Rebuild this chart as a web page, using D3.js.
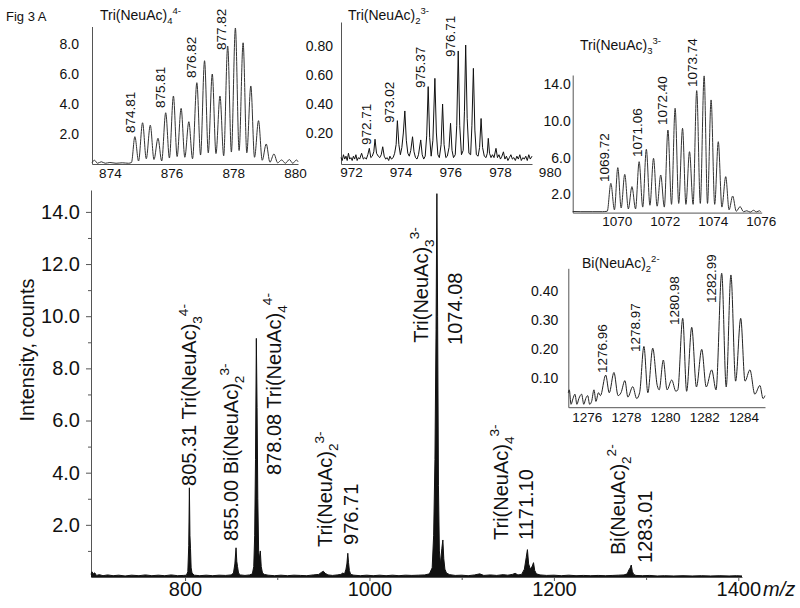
<!DOCTYPE html>
<html><head><meta charset="utf-8">
<script src="https://cdn.jsdelivr.net/npm/d3@7"></script>
<style>
body{margin:0;background:#fff}
text{font-family:"Liberation Sans",Arial,Helvetica,sans-serif;fill:#111}
</style>
</head><body><svg id="c" width="800" height="608"></svg>
<script>
// ---------------- DATA ----------------
const mainXTicks = [800, 1000, 1200, 1400];
const mainXMinor = [900, 1100, 1300];
const mainYTicks = [2, 4, 6, 8, 10, 12, 14];
const mainYMinor = [1, 3, 5, 7, 9, 11, 13];

const mainSpectrum = [
[698,0.1],[699,0.2],[700.5,0.12],[702,0.16],[704,0.06],[707,0.09],[711,0.05],[716,0.08],[722,0.05],[728,0.07],[735,0.04],[742,0.07],[750,0.05],[757,0.08],[764,0.05],[771,0.07],[778,0.05],[785,0.08],[792,0.05],[798,0.06],[801.5,0.07],
[803,0.2],[804,1.2],[804.7,3.42],[805.3,1.6],[805.9,1.1],[806.6,0.35],[807.6,0.15],[810,0.07],[816,0.05],[823,0.07],[830,0.05],[837,0.07],[844,0.06],[850,0.08],
[852.5,0.15],[854,0.5],[855.3,1.12],[856.1,0.6],[856.9,0.4],[858,0.15],[860,0.08],[865,0.06],[870,0.08],
[873,0.12],[874.5,0.4],[875.5,1.6],[876.4,4.5],[877.3,9.15],[878.1,6.5],[878.9,3.0],[879.8,1.0],[880.6,0.7],[881.6,1.0],[882.6,0.4],[884,0.15],[886,0.1],
[890,0.07],[897,0.05],[904,0.07],[911,0.05],[918,0.07],[925,0.06],[932,0.05],[939,0.08],[945,0.1],[948,0.18],[950,0.22],[952,0.14],[955,0.08],[960,0.06],[965,0.08],[969,0.1],[971,0.15],[973,0.12],
[974.5,0.3],[975.5,0.5],[976.5,0.91],[977.3,0.55],[978.2,0.25],[979.6,0.1],[983,0.07],[990,0.05],[997,0.07],[1004,0.05],[1011,0.07],[1018,0.05],[1025,0.07],[1032,0.05],[1039,0.07],[1046,0.06],[1053,0.07],[1060,0.08],
[1065,0.12],[1068,0.35],[1069.6,1.6],[1071,4.5],[1072.2,9.5],[1073.1,14.7],[1073.9,10],[1074.8,3.5],[1075.8,1.0],[1077,0.5],[1078.5,1.1],[1079.6,1.42],[1080.6,0.7],[1081.8,0.3],[1083.5,0.15],[1087,0.09],
[1093,0.06],[1100,0.07],[1107,0.05],[1114,0.08],[1119.6,0.12],[1124,0.06],[1131,0.08],[1138,0.06],[1145,0.09],[1150,0.07],[1155,0.1],[1158,0.14],[1161,0.08],[1165,0.1],
[1168,0.3],[1170,0.75],[1171.3,1.05],[1172.6,0.5],[1174.5,0.3],[1176.6,0.42],[1177.9,0.55],[1179.2,0.25],[1181,0.12],[1185,0.08],
[1192,0.06],[1200,0.07],[1208,0.05],[1216,0.07],[1224,0.05],[1232,0.06],[1240,0.05],[1248,0.06],[1256,0.05],[1264,0.06],[1270,0.07],[1276,0.08],
[1279.5,0.12],[1281.5,0.28],[1282.8,0.35],[1283.9,0.46],[1285,0.22],[1286.5,0.1],[1289,0.06],[1296,0.05],[1304,0.06],[1312,0.04],[1320,0.05],[1330,0.04],[1340,0.05],[1350,0.04],[1360,0.05],[1370,0.04],[1380,0.05],[1390,0.04],[1398,0.05],[1404,0.04]
];

const mainLabels = [
 {text:"805.31 Tri(NeuAc)_{3}^{4-}", at:804.3, base:3.49},
 {text:"855.00 Bi(NeuAc)_{2}^{3-}", at:849.4, base:1.38},
 {text:"878.08 Tri(NeuAc)_{4}^{4-}", at:896.0, base:3.91},
 {text:"Tri(NeuAc)_{2}^{3-}", at:951.9, base:1.15},
 {text:"976.71", at:979.6, base:1.23},
 {text:"Tri(NeuAc)_{3}^{3-}", at:1055.5, base:8.98},
 {text:"1074.08", at:1092.9, base:8.9},
 {text:"Tri(NeuAc)_{4}^{3-}", at:1142.3, base:1.42},
 {text:"1171.10", at:1169.4, base:1.42},
 {text:"Bi(NeuAc)_{2}^{2-}", at:1269.2, base:0.84},
 {text:"1283.01", at:1298.5, base:0.54}
];

// Inset 1: Tri(NeuAc)4 4-
const inset1Title = "Tri(NeuAc)_{4}^{4-}";
const inset1XTicks = [874, 876, 878, 880];
const inset1YTicks = [2, 4, 6, 8];
const inset1Spectrum = [
[873.42,0.1],[873.5,0.25],[873.6,0.05],[873.72,0.15],[873.85,0.05],[874.0,0.1],[874.2,0.05],[874.4,0.08],[874.6,0.05],[874.7,0.1],
[874.81,1.83],[874.93,0.2],[875.06,2.76],[875.18,0.35],[875.31,2.6],[875.43,0.3],[875.56,1.72],[875.68,0.2],
[875.81,3.43],[875.93,0.4],[876.06,4.55],[876.18,0.5],[876.31,3.72],[876.43,0.45],[876.56,2.83],[876.68,0.35],
[876.82,5.44],[876.94,0.6],[877.07,6.91],[877.19,0.75],[877.32,6.02],[877.44,0.7],[877.57,4.55],[877.69,0.55],
[877.82,7.89],[877.94,0.8],[878.07,9.1],[878.19,0.9],[878.32,8.11],[878.44,0.75],[878.57,5.22],[878.69,0.45],
[878.82,2.9],[878.94,0.25],[879.07,1.34],[879.19,0.12],[879.32,0.67],[879.44,0.08],[879.57,0.27],[879.69,0.05],[879.82,0.3],[879.93,0.05],[880.05,0.27],[880.1,0.15]
];
const inset1Labels = [
 {text:"874.81", at:874.65, base:2.07},
 {text:"875.81", at:875.65, base:3.75},
 {text:"876.82", at:876.63, base:5.75},
 {text:"877.82", at:877.6, base:7.63}
];

// Inset 2: Tri(NeuAc)2 3-
const inset2Title = "Tri(NeuAc)_{2}^{3-}";
const inset2XTicks = [972, 974, 976, 978, 980];
const inset2YTicks = [0.2, 0.4, 0.6, 0.8];
const inset2Spectrum = [
[971.60,0.03],[971.65,0.01],[971.70,0.05],[971.75,0.02],[971.80,0.04],[971.85,0.01],[971.90,0.06],[971.95,0.02],[972.00,0.03],[972.05,0.01],[972.10,0.04],[972.15,0.02],[972.20,0.05],[972.25,0.01],[972.30,0.03],[972.35,0.02],[972.43,0.06],[972.50,0.02],[972.56,0.03],[972.62,0.02],[972.68,0.05],
[972.74,0.094],[972.80,0.03],[972.86,0.04],[972.92,0.07],[972.97,0.157],[973.03,0.06],[973.10,0.04],[973.16,0.03],[973.22,0.05],[973.28,0.105],[973.34,0.04],[973.40,0.02],[973.46,0.03],[973.52,0.01],[973.57,0.04],[973.63,0.02],[973.70,0.03],[973.76,0.06],[973.82,0.12],
[973.87,0.285],[973.93,0.12],[973.99,0.05],[974.05,0.10],[974.11,0.20],[974.17,0.352],[974.23,0.15],[974.29,0.06],[974.35,0.04],[974.41,0.08],[974.48,0.174],[974.54,0.07],[974.60,0.03],[974.66,0.02],[974.72,0.05],[974.81,0.152],[974.87,0.05],[974.93,0.02],[974.99,0.04],[975.05,0.18],
[975.11,0.52],[975.17,0.17],[975.23,0.04],[975.30,0.15],[975.38,0.577],[975.44,0.20],[975.50,0.05],[975.56,0.03],[975.63,0.12],[975.69,0.40],[975.75,0.12],[975.82,0.03],[975.88,0.04],[975.95,0.10],[976.01,0.267],[976.07,0.08],[976.13,0.03],[976.20,0.05],[976.26,0.25],
[976.32,0.766],[976.38,0.25],[976.45,0.05],[976.52,0.08],[976.57,0.35],[976.62,0.807],[976.68,0.30],[976.75,0.06],[976.82,0.05],[976.87,0.25],[976.93,0.646],[976.99,0.22],[977.05,0.05],[977.12,0.04],[977.18,0.10],[977.24,0.30],[977.30,0.10],[977.37,0.04],[977.44,0.03],[977.49,0.06],
[977.53,0.163],[977.58,0.06],[977.64,0.03],[977.70,0.05],[977.76,0.03],[977.84,0.094],[977.90,0.03],[977.96,0.05],[978.02,0.02],[978.08,0.04],[978.14,0.07],[978.20,0.02],[978.26,0.04],[978.32,0.01],[978.38,0.03],[978.44,0.05],[978.50,0.02],[978.56,0.03],[978.62,0.01],[978.68,0.04],
[978.74,0.02],[978.80,0.05],[978.86,0.01],[978.92,0.03],[978.98,0.02],[979.04,0.04],[979.10,0.01],[979.16,0.05],[979.22,0.02],[979.29,0.04]
];
const inset2Labels = [
 {text:"972.71", at:972.6, base:0.117},
 {text:"973.02", at:973.53, base:0.269},
 {text:"975.37", at:974.78, base:0.51},
 {text:"976.71", at:975.99, base:0.724}
];

// Inset 3: Tri(NeuAc)3 3-
const inset3Title = "Tri(NeuAc)_{3}^{3-}";
const inset3XTicks = [1070, 1072, 1074, 1076];
const inset3YTicks = [2, 6, 10, 14];
const inset3Spectrum = [
[1068.16,0.12],[1068.5,0.1],[1069.0,0.1],[1069.4,0.1],[1069.6,0.15],
[1069.75,3.19],[1069.9,0.3],[1070.04,4.9],[1070.18,0.5],[1070.33,4.17],[1070.48,0.4],[1070.63,2.83],[1070.78,0.4],
[1070.93,5.55],[1071.08,0.6],[1071.23,6.9],[1071.38,0.8],[1071.53,5.92],[1071.68,0.7],[1071.83,4.1],[1071.98,0.6],
[1072.13,9.0],[1072.28,0.9],[1072.43,11.37],[1072.58,1.0],[1072.74,9.19],[1072.88,0.9],[1073.03,6.64],[1073.18,0.9],
[1073.33,13.3],[1073.48,1.0],[1073.64,14.9],[1073.78,1.0],[1073.93,12.28],[1074.08,0.9],[1074.23,7.73],[1074.38,0.6],
[1074.54,3.92],[1074.68,0.3],[1074.83,1.81],[1074.98,0.15],[1075.14,0.65],[1075.28,0.1],[1075.42,0.2],[1075.56,0.05],[1075.7,0.25],[1075.82,0.08],[1075.95,0.2],[1076.0,0.1]
];
const inset3Labels = [
 {text:"1069.72", at:1069.47, base:3.34},
 {text:"1071.06", at:1070.85, base:6.06},
 {text:"1072.40", at:1071.89, base:9.55},
 {text:"1073.74", at:1073.14, base:13.7}
];

// Inset 4: Bi(NeuAc)2 2-
const inset4Title = "Bi(NeuAc)_{2}^{2-}";
const inset4XTicks = [1276, 1278, 1280, 1282, 1284];
const inset4YTicks = [0.1, 0.2, 0.3, 0.4];
const inset4Spectrum = [
[1275.06,0.05],[1275.11,0.06],[1275.2,0.01],[1275.3,0.03],[1275.4,0.045],[1275.5,0.01],[1275.6,0.03],[1275.74,0.045],[1275.85,0.01],[1275.95,0.03],[1276.05,0.04],[1276.15,0.01],[1276.25,0.02],[1276.37,0.06],[1276.47,0.02],[1276.6,0.05],[1276.7,0.04],
[1276.97,0.111],[1277.15,0.05],[1277.39,0.12],[1277.6,0.04],[1277.75,0.05],[1277.95,0.092],[1278.1,0.035],[1278.35,0.071],[1278.55,0.03],[1278.7,0.05],
[1278.92,0.21],[1279.12,0.05],[1279.37,0.204],[1279.6,0.075],[1279.7,0.06],[1279.91,0.163],[1280.1,0.06],[1280.34,0.094],[1280.55,0.055],[1280.65,0.06],
[1280.9,0.307],[1281.1,0.055],[1281.36,0.276],[1281.6,0.07],[1281.87,0.2],[1282.1,0.07],[1282.38,0.129],[1282.6,0.06],
[1282.89,0.463],[1283.12,0.07],[1283.36,0.457],[1283.6,0.09],[1283.86,0.307],[1284.08,0.09],[1284.33,0.129],[1284.58,0.045],[1284.84,0.075],[1285.0,0.03],[1285.1,0.04]
];
const inset4Labels = [
 {text:"1276.96", at:1276.78, base:0.118},
 {text:"1278.97", at:1278.46, base:0.191},
 {text:"1280.98", at:1280.45, base:0.284},
 {text:"1282.99", at:1282.34, base:0.36}
];

// ---------------- DRAWING ----------------
const svg = d3.select("#c");
svg.append("rect").attr("width",800).attr("height",608).attr("fill","#fff");

function rich(t, str, size){
  const parts = str.split(/(_\{[^}]*\}|\^\{[^}]*\})/).filter(s => s.length);
  let cur = 0;
  parts.forEach(p => {
    let target = 0, fs = size, txt = p;
    if (p[0] === "_") { target = 0.3*size; fs = 0.68*size; txt = p.slice(2,-1); }
    else if (p[0] === "^") { target = -0.42*size; fs = 0.68*size; txt = p.slice(2,-1); }
    t.append("tspan").attr("dy", (target-cur).toFixed(2)).attr("font-size", fs).text(txt);
    cur = target;
  });
}
function vLabel(g, x, y, lab, size){
  const t = g.append("text")
    .attr("transform", `translate(${(x(lab.at)+0.35*size).toFixed(2)},${y(lab.base).toFixed(2)}) rotate(-90)`)
    .attr("font-size", size).style("white-space","pre");
  rich(t, lab.text, size);
}
function styleAxis(a, fs){
  a.attr("font-family", null).attr("font-size", fs);
  a.select(".domain").attr("stroke","#555").attr("stroke-width",1);
  a.selectAll(".tick line").attr("stroke","#555");
}

// ---- main chart ----
const mx = d3.scaleLinear().domain([698, 1404]).range([91, 742]);
const my = d3.scaleLinear().domain([0, 14.84]).range([577, 190]);
const main = svg.append("g");

const ax = main.append("g").attr("transform","translate(0,577)")
  .call(d3.axisBottom(mx).tickValues(mainXTicks).tickSize(4).tickPadding(1).tickSizeOuter(0).tickFormat(d3.format("d")));
styleAxis(ax, 20);
const axm = main.append("g").attr("transform","translate(0,577)")
  .call(d3.axisBottom(mx).tickValues(mainXMinor).tickSize(3).tickFormat(""));
axm.select(".domain").remove(); axm.selectAll(".tick line").attr("stroke","#555");

const ay = main.append("g").attr("transform","translate(91,0)")
  .call(d3.axisLeft(my).tickValues(mainYTicks).tickSize(5).tickPadding(6).tickSizeOuter(0).tickFormat(d3.format(".1f")));
styleAxis(ay, 20);
const aym = main.append("g").attr("transform","translate(91,0)")
  .call(d3.axisLeft(my).tickValues(mainYMinor).tickSize(3).tickFormat(""));
aym.select(".domain").remove(); aym.selectAll(".tick line").attr("stroke","#555");

main.append("path").datum(mainSpectrum)
  .attr("d", d3.area().x(d=>mx(d[0])).y0(my(0)).y1(d=>my(d[1])))
  .attr("fill","#111");
main.append("path").datum(mainSpectrum)
  .attr("d", d3.line().x(d=>mx(d[0])).y(d=>my(d[1])))
  .attr("fill","none").attr("stroke","#111").attr("stroke-width",1);

mainLabels.forEach(l => vLabel(main, mx, my, l, 20));

main.append("text").attr("transform","translate(34,350) rotate(-90)")
  .attr("text-anchor","middle").attr("font-size",20).text("Intensity, counts");
main.append("text").attr("x",763).attr("y",596).attr("font-size",20)
  .attr("font-style","italic").text("m/z");

svg.append("text").attr("x",6).attr("y",21).attr("font-size",13).text("Fig 3 A");

// ---- insets ----
function drawInset(cfg){
  const x = d3.scaleLinear().domain(cfg.xDomain).range(cfg.xRange);
  const y = d3.scaleLinear().domain(cfg.yDomain).range(cfg.yRange);
  const g = svg.append("g");
  const gx = g.append("g").attr("transform",`translate(0,${cfg.yRange[0]})`)
    .call(d3.axisBottom(x).tickValues(cfg.xTicks).tickSize(0).tickPadding(cfg.xPad).tickSizeOuter(0).tickFormat(d3.format("d")));
  styleAxis(gx, 13.5);
  const gy = g.append("g").attr("transform",`translate(${cfg.xRange[0]},0)`)
    .call(d3.axisLeft(y).tickValues(cfg.yTicks).tickSize(0).tickPadding(cfg.yPad).tickSizeOuter(0).tickFormat(d3.format(cfg.yFmt)));
  styleAxis(gy, 14);
  g.append("path").datum(cfg.data)
    .attr("d", d3.line().x(d=>x(d[0])).y(d=>y(d[1])).curve(cfg.curve))
    .attr("fill","none").attr("stroke", cfg.color).attr("stroke-width",1);
  cfg.labels.forEach(l => vLabel(g, x, y, l, 13.5));
  const t = g.append("text").attr("x", cfg.titlePos[0]).attr("y", cfg.titlePos[1]).attr("font-size",14).style("white-space","pre");
  rich(t, cfg.title, 14);
}

drawInset({xDomain:[873.42,880.1], xRange:[92,298], yDomain:[0,9.2], yRange:[164,26.5],
  xTicks:inset1XTicks, yTicks:inset1YTicks, yFmt:".1f", xPad:4, yPad:13,
  data:inset1Spectrum, labels:inset1Labels, title:inset1Title, titlePos:[100,20],
  curve:d3.curveMonotoneX, color:"#333"});

drawInset({xDomain:[971.6,979.29], xRange:[341,532], yDomain:[-0.014,0.966], yRange:[164,22],
  xTicks:inset2XTicks, yTicks:inset2YTicks, yFmt:".2f", xPad:3, yPad:8,
  data:inset2Spectrum, labels:inset2Labels, title:inset2Title, titlePos:[348,20],
  curve:d3.curveLinear, color:"#111"});

drawInset({xDomain:[1068.16,1076.04], xRange:[572.7,761.7], yDomain:[0,15], yRange:[212.6,75],
  xTicks:inset3XTicks, yTicks:inset3YTicks, yFmt:".1f", xPad:4, yPad:2,
  data:inset3Spectrum, labels:inset3Labels, title:inset3Title, titlePos:[580,50],
  curve:d3.curveMonotoneX, color:"#333"});

drawInset({xDomain:[1275.06,1285.1], xRange:[568.3,765], yDomain:[0,0.48], yRange:[407.2,268.3],
  xTicks:inset4XTicks, yTicks:inset4YTicks, yFmt:".2f", xPad:5, yPad:10,
  data:inset4Spectrum, labels:inset4Labels, title:inset4Title, titlePos:[582,268],
  curve:d3.curveMonotoneX, color:"#222"});
</script></body></html>
